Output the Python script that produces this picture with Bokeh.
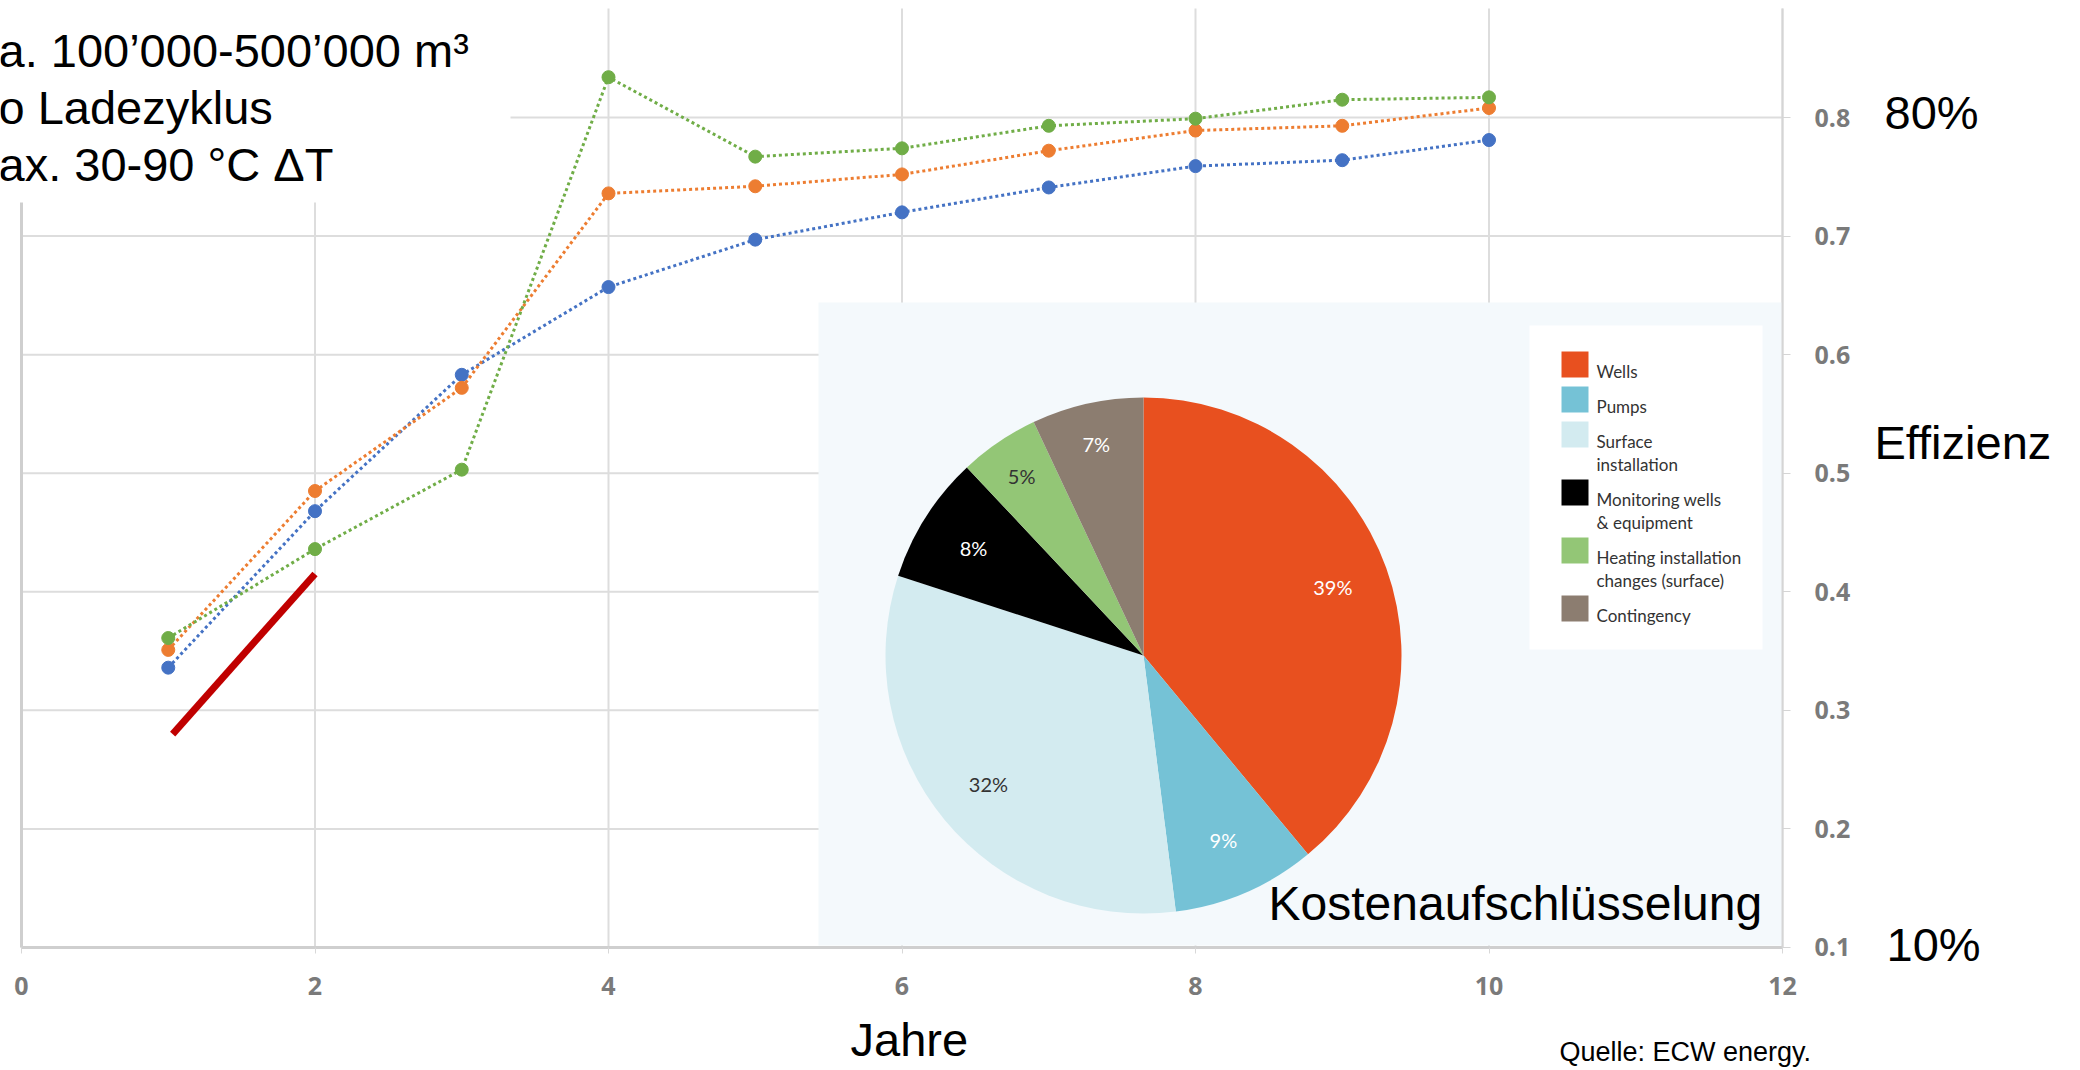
import math
from bokeh.plotting import figure
from bokeh.models import Range1d, FixedTicker, Label, ColumnDataSource
from bokeh.core.properties import value
from bokeh.embed import file_html
from bokeh.resources import INLINE

# ---------------- data ----------------
years = [1, 2, 3, 4, 5, 6, 7, 8, 9, 10]
series_blue = [0.336, 0.468, 0.583, 0.657, 0.697, 0.720, 0.741, 0.759, 0.764, 0.781]
series_orange = [0.351, 0.485, 0.572, 0.736, 0.742, 0.752, 0.772, 0.789, 0.793, 0.808]
series_green = [0.361, 0.436, 0.503, 0.834, 0.767, 0.774, 0.793, 0.799, 0.815, 0.817]
trend_x = [1.03, 2.0]
trend_y = [0.280, 0.415]

x_ticks = [0, 2, 4, 6, 8, 10, 12]
y_ticks = [0.1, 0.2, 0.3, 0.4, 0.5, 0.6, 0.7, 0.8]

cost_names = ["Wells", "Pumps", "Surface\ninstallation", "Monitoring wells\n& equipment",
              "Heating installation\nchanges (surface)", "Contingency"]
cost_share = [39, 9, 32, 8, 5, 7]
cost_colors = ["#E8501F", "#75C2D6", "#D3EBF0", "#000000", "#93C676", "#8C7D70"]
cost_label_colors = ["#FFFFFF", "#FFFFFF", "#333333", "#FFFFFF", "#333333", "#FFFFFF"]

info_lines = ["a. 100\u2019000-500\u2019000 m\u00b3", "o Ladezyklus", "ax. 30-90 \u00b0C \u0394T"]

# ---------------- layout ----------------
W, H = 2080, 1070
AX_L, AX_R, AX_T, AX_B = 21, 1782, 8, 947     # plot area on the canvas
X_MIN, X_MAX = 0, 12
Y_MIN = 0.1
PX_X = (AX_R - AX_L) / (X_MAX - X_MIN)
PX_Y = 1185.7
Y_TOP = 0.8 + (117 - AX_T) / PX_Y

x_start = X_MIN - AX_L / PX_X
x_end = X_MAX + (W - AX_R) / PX_X
y_start = Y_MIN - (H - AX_B) / PX_Y
y_end = Y_TOP + AX_T / PX_Y

p = figure(width=W, height=H, output_backend="svg", toolbar_location=None,
           x_range=Range1d(x_start, x_end), y_range=Range1d(y_start, y_end),
           x_axis_location="below", y_axis_location="right",
           min_border=0, min_border_left=0, min_border_right=0,
           min_border_top=0, min_border_bottom=0)
p.extra_x_ranges = {"px": Range1d(0, W)}
p.extra_y_ranges = {"px": Range1d(0, H)}
p.background_fill_color = "white"
p.border_fill_color = "white"
p.outline_line_color = None
p.xgrid.visible = False
p.ygrid.visible = False

def cy(y):  # canvas y (top-down) -> px range value
    return H - y

# gridlines (limited to the plot area)
GRID = "#dddddd"
p.segment(x0=x_ticks, y0=[Y_MIN] * len(x_ticks), x1=x_ticks, y1=[Y_TOP] * len(x_ticks),
          line_color=GRID, line_width=2)
p.segment(x0=[X_MIN] * len(y_ticks), y0=y_ticks, x1=[X_MAX] * len(y_ticks), y1=y_ticks,
          line_color=GRID, line_width=2)
# left frame line
p.segment(x0=[X_MIN], y0=[Y_MIN], x1=[X_MIN], y1=[Y_TOP], line_color="#cfcfcf", line_width=3)

# axes, fixed at the plot-area edges
xa = p.xaxis[0]
xa.fixed_location = Y_MIN
xa.bounds = (X_MIN, X_MAX)
xa.ticker = FixedTicker(ticks=x_ticks)
xa.axis_line_color = "#cfcfcf"
xa.axis_line_width = 3
xa.major_tick_line_color = "#d8d8d8"
xa.major_tick_out = 6
xa.major_tick_in = 0
xa.minor_tick_line_color = None
xa.major_label_standoff = 24
xa.major_label_text_font = "Open Sans"
xa.major_label_text_font_size = "25px"
xa.major_label_text_font_style = "bold"
xa.major_label_text_color = "#7a7a7a"

ya = p.yaxis[0]
ya.fixed_location = X_MAX
ya.bounds = (Y_MIN, Y_TOP)
ya.ticker = FixedTicker(ticks=y_ticks)
ya.major_label_overrides = {t: f"{t:.1f}" for t in y_ticks}
ya.axis_line_color = "#d5d5d5"
ya.axis_line_width = 2
ya.major_tick_line_color = "#d5d5d5"
ya.major_tick_out = 8
ya.major_tick_in = 0
ya.minor_tick_line_color = None
ya.major_label_standoff = 24
ya.major_label_text_font = "Open Sans"
ya.major_label_text_font_size = "25px"
ya.major_label_text_font_style = "bold"
ya.major_label_text_color = "#7a7a7a"

# white box behind the info text
p.quad(left=[0], right=[510], top=[cy(0)], bottom=[cy(202)],
       fill_color="white", line_color=None, x_range_name="px", y_range_name="px")

# series
for vals, col in ((series_blue, "#4472C4"), (series_orange, "#ED7D31"), (series_green, "#70AD47")):
    src = ColumnDataSource(dict(x=years, y=vals))
    p.line("x", "y", source=src, line_color=col, line_width=3, line_dash="3 3")
    p.scatter("x", "y", source=src, size=13, fill_color=col, line_color=col)

p.line(trend_x, trend_y, line_color="#C00000", line_width=7)

# ---------------- inset: cost breakdown ----------------
p.quad(left=[818], right=[AX_R], top=[cy(302)], bottom=[cy(945)],
       fill_color="#F4F9FC", line_color=None, x_range_name="px", y_range_name="px")

PCX, PCY, PR = 1143, cy(655), 258
total = float(sum(cost_share))
starts, ends, lx, ly = [], [], [], []
cum = 0.0
for s in cost_share:
    a0 = math.pi / 2 - 2 * math.pi * cum / total
    a1 = math.pi / 2 - 2 * math.pi * (cum + s) / total
    starts.append(a0)
    ends.append(a1)
    mid = (a0 + a1) / 2
    r = PR * (0.84 if s <= 7 else 0.78)
    lx.append(PCX + r * math.cos(mid))
    ly.append(PCY + r * math.sin(mid))
    cum += s

p.wedge(x=PCX, y=PCY, radius=PR, radius_units="screen",
        start_angle=starts, end_angle=ends, direction="clock",
        fill_color=cost_colors, line_color=None,
        x_range_name="px", y_range_name="px")
p.text(x=lx, y=ly, text=[f"{s}%" for s in cost_share], text_color=cost_label_colors,
       text_font=value("Lato"), text_font_size="20px", text_align="center",
       text_baseline="middle", x_range_name="px", y_range_name="px")

# legend box
p.quad(left=[1529], right=[1762], top=[cy(325)], bottom=[cy(649)],
       fill_color="white", line_color=None, x_range_name="px", y_range_name="px")
top = 351
sw_l, sw_r, sw_t, sw_b = [], [], [], []
tx, ty, tt = [], [], []
for name, col in zip(cost_names, cost_colors):
    lines = name.split("\n")
    sw_l.append(1561); sw_r.append(1588)
    sw_t.append(cy(top)); sw_b.append(cy(top + 26))
    for k, ln in enumerate(lines):
        tx.append(1596)
        ty.append(cy(top + 20 + 23 * k))
        tt.append(ln)
    top += 35 + 23 * (len(lines) - 1)
p.quad(left=sw_l, right=sw_r, top=sw_t, bottom=sw_b, fill_color=cost_colors,
       line_color=None, x_range_name="px", y_range_name="px")
p.text(x=tx, y=ty, text=tt, text_color="#333333", text_font=value("Lato"),
       text_font_size="17px", text_align="left", text_baseline="middle",
       x_range_name="px", y_range_name="px")

# ---------------- free texts ----------------
def label(x, y, text, size="47px", align="left"):
    p.add_layout(Label(x=x, y=cy(y), text=text, x_range_name="px", y_range_name="px",
                       text_font="Liberation Sans", text_font_size=size,
                       text_color="black", text_align=align, text_baseline="alphabetic"))

for i, ln in enumerate(info_lines):
    label(-2, 50 + 57 * i, ln)
label(1884, 112, "80%")
label(1874, 442, "Effizienz")
label(1886, 944, "10%")
label(1268, 903, "Kostenaufschl\u00fcsselung", size="48px")
label(850, 1039, "Jahre")
label(1559, 1051, "Quelle: ECW energy.", size="27px")

open("out.html", "w").write(file_html(p, INLINE))
